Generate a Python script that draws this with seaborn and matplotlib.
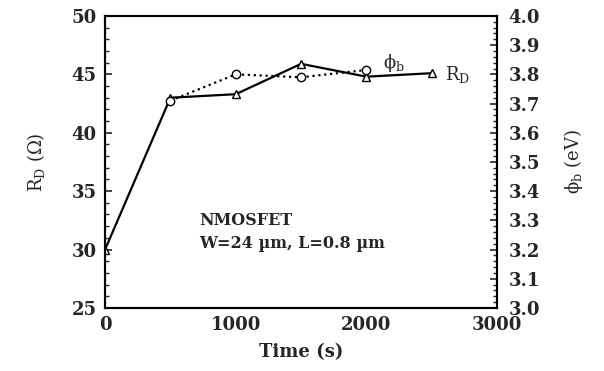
import pandas as pd
import matplotlib.pyplot as plt
import seaborn as sns
from matplotlib.ticker import MultipleLocator

# data
time_s = [0, 500, 1000, 1500, 2000, 2500]
rd_ohm = [30.0, 43.0, 43.3, 45.9, 44.8, 45.1]
phi_time = [500, 1000, 1500, 2000]
phi_ev = [3.71, 3.80, 3.79, 3.815]

rd_df = pd.DataFrame({'Time': time_s, 'RD': rd_ohm})
phi_df = pd.DataFrame({'Time': phi_time, 'phi': phi_ev})

sns.set_style('white')
plt.rcParams['font.family'] = ['DejaVu Serif']
plt.rcParams['mathtext.fontset'] = 'dejavuserif'

fig = plt.figure(figsize=(6.04, 3.71), dpi=100)
ax = fig.add_axes([0.174, 0.170, 0.649, 0.787])
ax2 = ax.twinx()

# R_D : solid line, open triangles
sns.lineplot(data=rd_df, x='Time', y='RD', ax=ax, color='black', lw=1.6,
             marker='^', markersize=6, markerfacecolor='white',
             markeredgecolor='black', markeredgewidth=1.0)

# phi_b : dotted line, open circles
sns.lineplot(data=phi_df, x='Time', y='phi', ax=ax2, color='black', lw=1.6,
             linestyle=':', marker='o', markersize=6, markerfacecolor='white',
             markeredgecolor='black', markeredgewidth=1.0)

ax.set_xlim(0, 3000)
ax.set_ylim(25, 50)
ax2.set_ylim(3.0, 4.0)

ax.xaxis.set_major_locator(MultipleLocator(1000))
ax.xaxis.set_minor_locator(MultipleLocator(100))
ax.yaxis.set_major_locator(MultipleLocator(5))
ax.yaxis.set_minor_locator(MultipleLocator(1))
ax2.yaxis.set_major_locator(MultipleLocator(0.1))
ax2.yaxis.set_minor_locator(MultipleLocator(0.02))

for a in (ax, ax2):
    for s in a.spines.values():
        s.set_linewidth(1.5)
        s.set_color('black')

ax.tick_params(axis='both', which='major', direction='in', length=5, width=1.2,
               labelsize=13)
ax.tick_params(axis='both', which='minor', direction='in', length=3, width=1.0)
ax.tick_params(axis='y', which='both', right=False, pad=6)
ax.tick_params(axis='x', which='both', top=False, pad=6)
ax2.tick_params(axis='y', which='major', direction='in', length=5, width=1.2,
                labelsize=13, pad=8)
ax2.tick_params(axis='y', which='minor', direction='in', length=3, width=1.0)

for lab in ax.get_xticklabels() + ax.get_yticklabels():
    lab.set_fontweight('bold')
ax2.set_yticks(ax2.get_yticks())
ax2.set_yticklabels([f'{v:.1f}' for v in ax2.get_yticks()], fontweight='bold')
ax2.set_ylim(3.0, 4.0)

ax.set_xlabel('Time (s)', fontsize=13, fontweight='bold', labelpad=6)
ax.set_ylabel(r'R$_\mathrm{D}$ ($\Omega$)', fontsize=13, labelpad=18)
ax2.set_ylabel('\u03d5$_\\mathrm{b}$ (eV)', fontsize=13, labelpad=16)

ax.text(2130, 46.0, '\u03d5$_\\mathrm{b}$', fontsize=13, va='center')
ax.text(2600, 45.0, r'R$_\mathrm{D}$', fontsize=13, va='center')
ax.text(720, 32.5, 'NMOSFET', fontsize=11.5, fontweight='bold', va='center')
ax.text(720, 30.5, 'W=24 \u00b5m, L=0.8 \u00b5m', fontsize=11.5,
        fontweight='bold', va='center')

fig.savefig('out.png', dpi=100)
